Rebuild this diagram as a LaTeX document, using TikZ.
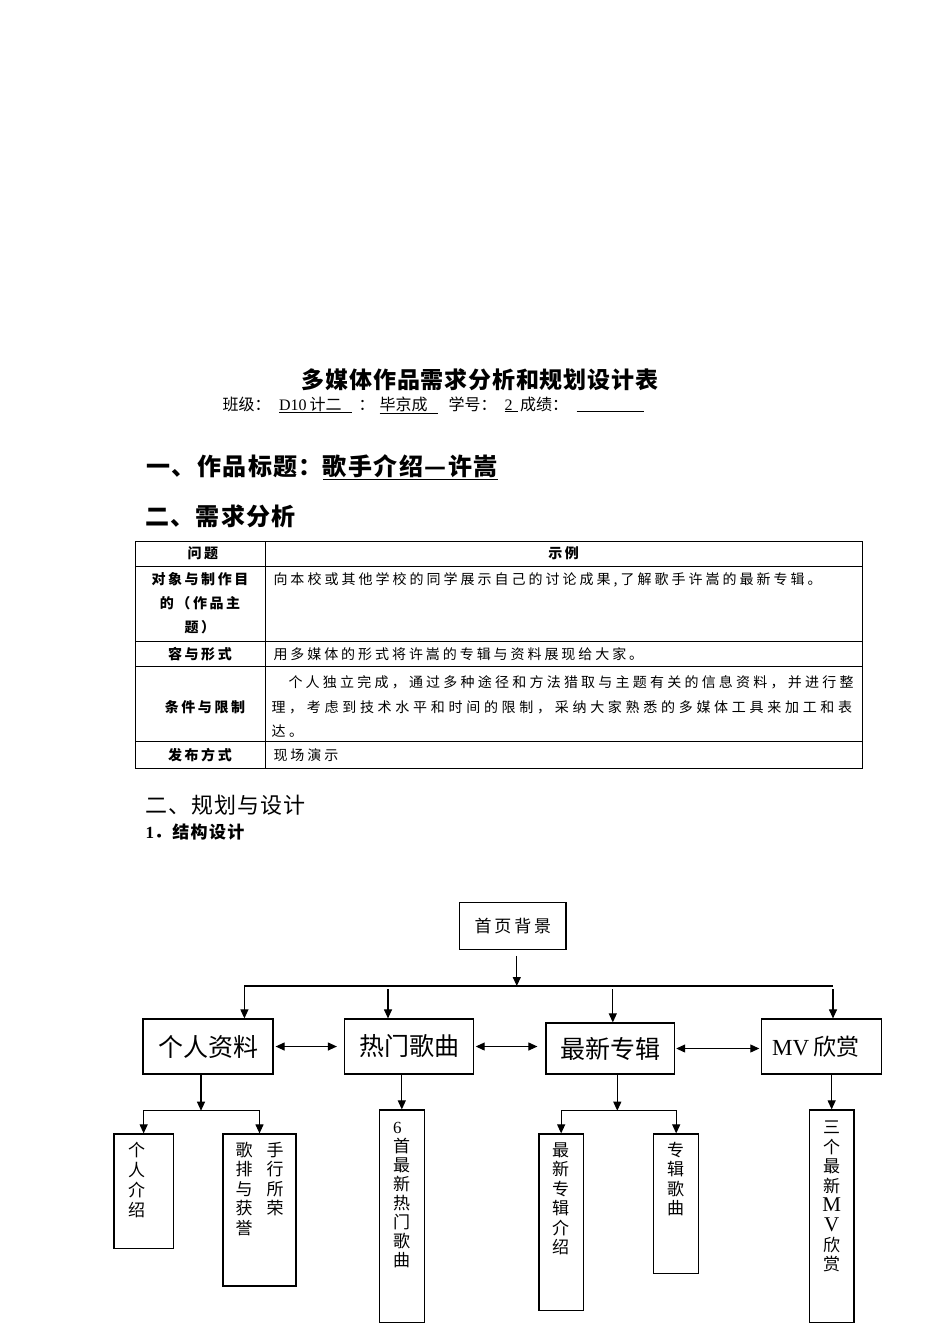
\documentclass[tikz,border=0pt]{standalone}
\usepackage{fontspec}
\setmainfont{Noto Sans CJK SC}
\newfontfamily\lat{Liberation Serif}
\usetikzlibrary{arrows.meta}
\newcommand\fsz[2]{\fontsize{#1}{#2}\selectfont}

\begin{document}
\begin{tikzpicture}[x=1pt,y=-1pt,line width=1pt,
  box/.style={draw,line width=1.2pt,inner sep=0pt},
  arr/.style={line width=1.1pt,-{Triangle[length=9pt,width=8pt]}},
  darr/.style={line width=1.1pt,{Triangle[length=9pt,width=8pt]}-{Triangle[length=9pt,width=8pt]}},
  vtext/.style={inner sep=0pt,align=center,font=\fsz{17}{19.5}},
  sub/.style={inner sep=0pt,anchor=base west,font=\fsz{16}{18}},
  cell/.style={inner sep=0pt,anchor=base west,font={\fsz{14}{17}\addfontfeature{LetterSpace=21.5}}},
  head/.style={inner sep=0pt,anchor=base,font={\fsz{14}{17}\bfseries\addfontfeature{LetterSpace=18}}}]
  \useasboundingbox (0,0) rectangle (950,1344);

  % title lines
  \node[inner sep=0pt,anchor=base,font={\fsz{23}{26}\bfseries\addfontfeature{LetterSpace=3.5}}] (title) at (480,388.7) {多媒体作品需求分析和规划设计表};
  \node[sub] (s1) at (222,410) {班级：};
  \node[sub] (s2) at (278.6,410) {\underline{{\lat D10}\hspace{3pt}计二\hspace{10pt}}};
  \node[sub] (s3) at (358,410) {：};
  \node[sub] (s4) at (379,410) {\underline{毕京成\hspace{10pt}}};
  \node[sub] (s5) at (448,410) {学号：};
  \node[sub] (s6) at (504,410) {\underline{{\lat 2}\hspace{5pt}}};
  \node[sub] (s7) at (519.6,410) {成绩：};
  \node[sub] (s8) at (576,410) {\underline{\hspace{67pt}}};

  \node[inner sep=0pt,anchor=base west,font={\fsz{24}{27}\bfseries\addfontfeature{LetterSpace=6}}] (h1) at (145.8,475) {一、作品标题：\underline{歌手介绍—许嵩}};
  \node[inner sep=0pt,anchor=base west,font={\fsz{24}{27}\bfseries\addfontfeature{LetterSpace=5}}] (h2) at (145,525.6) {二、需求分析};

  % table
  \draw (135,541) rectangle (862,768);
  \foreach \ry in {566,641,666,741}
    \draw (135,\ry) -- (862,\ry);
  \draw (265.5,541) -- (265.5,768);
  \node[head] (q0) at (203,558.8) {问题};
  \node[head] (a0) at (563.6,558.8) {示例};
  \node[head,anchor=center,align=center,font={\fsz{14}{24}\bfseries\addfontfeature{LetterSpace=18}}] (q1) at (200,603) {对象与制作目\\的（作品主\\题）};
  \node[cell] (a1) at (273,584.3) {向本校或其他学校的同学展示自己的讨论成果,了解歌手许嵩的最新专辑。};
  \node[head] (q2) at (200,659.3) {容与形式};
  \node[cell,font={\fsz{14}{17}\addfontfeature{LetterSpace=21}}] (a2) at (273,659.3) {用多媒体的形式将许嵩的专辑与资料展现给大家。};
  \node[head] (q3) at (205,712.3) {条件与限制};
  \node[cell,font={\fsz{14}{17}\addfontfeature{LetterSpace=23}}] (a3a) at (288,687.3) {个人独立完成，通过多种途径和方法猎取与主题有关的信息资料，并进行整};
  \node[cell,font={\fsz{14}{17}\addfontfeature{LetterSpace=26.5}}] (a3b) at (271,712.3) {理，考虑到技术水平和时间的限制，采纳大家熟悉的多媒体工具来加工和表};
  \node[cell,font={\fsz{14}{17}\addfontfeature{LetterSpace=26.5}}] (a3c) at (271,736.3) {达。};
  \node[head] (q4) at (200,760) {发布方式};
  \node[cell,font={\fsz{14}{17}\addfontfeature{LetterSpace=21}}] (a4) at (273,760) {现场演示};

  \node[inner sep=0pt,anchor=base west,font={\fsz{22}{25}\addfontfeature{LetterSpace=4.5}}] (h3) at (145,813.4) {二、规划与设计};
  \node[inner sep=0pt,anchor=base west,font={\fsz{17}{20}\bfseries\addfontfeature{LetterSpace=8}}] (h4) at (145,838) {{\lat\bfseries 1}．结构设计};

  % structure chart
  \node[box,minimum width=106.3pt,minimum height=46.6pt,font={\fsz{17}{20}\addfontfeature{LetterSpace=17}}] (home) at (512.85,926) {首页背景};
  \node[box,minimum width=130pt,minimum height=55pt,font=\fsz{25}{28}] (b1) at (208,1046.5) {个人资料};
  \node[box,minimum width=129.1pt,minimum height=55pt,font=\fsz{25}{28}] (b2) at (409.05,1046.5) {热门歌曲};
  \node[box,minimum width=128.6pt,minimum height=51pt,font=\fsz{25}{28}] (b3) at (610.3,1048.5) {最新专辑};
  \node[box,minimum width=120.4pt,minimum height=55pt,font=\fsz{23}{26}] (b4) at (821.6,1046.5) {{\lat MV}\kern4pt 欣赏\kern12pt};

  \node[box,minimum width=59.3pt,minimum height=114.3pt] (c1) at (143.65,1191.15) {};
  \node[box,minimum width=73pt,minimum height=152pt] (c2) at (259.5,1210) {};
  \node[box,minimum width=45pt,minimum height=212.7pt] (c3) at (401.8,1216.35) {};
  \node[box,minimum width=44.3pt,minimum height=176.7pt] (c4) at (561.15,1222.35) {};
  \node[box,minimum width=45pt,minimum height=139.3pt] (c5) at (676.2,1203.65) {};
  \node[box,minimum width=44.7pt,minimum height=212.7pt] (c6) at (831.65,1216.35) {};

  \node[vtext,font=\fsz{17}{20}] (t1) at (136.7,1180) {个\\人\\介\\绍};
  \node[vtext] (t2a) at (244,1189) {歌\\排\\与\\获\\誉};
  \node[vtext] (t2b) at (275,1179.25) {手\\行\\所\\荣};
  \node[vtext,align=left,font=\fsz{17}{19}] (t3) at (401.7,1195.5) {{\lat 6}\\首\\最\\新\\热\\门\\歌\\曲};
  \node[vtext] (t4) at (560.7,1198.75) {最\\新\\专\\辑\\介\\绍};
  \node[vtext] (t5) at (675.7,1179.25) {专\\辑\\歌\\曲};
  \node[vtext,font=\fsz{17}{19.6}] (t6) at (831.7,1196.5) {三\\个\\最\\新\\{\lat\fsz{21}{19.6}M}\\{\lat\fsz{21}{19.6}V}\\欣\\赏};

  \coordinate (busL) at (244.4,986);
  \coordinate (busR) at (833,986);
  \coordinate (busM) at (516.8,986);
  \coordinate (d2) at (388,989);
  \coordinate (d3) at (612.8,989);
  \coordinate (d4) at (833,989);
  \coordinate (j1) at (201,1110.7);
  \coordinate (j3) at (617.3,1110.7);

  \draw[arr] ([xshift=3.95pt,yshift=-6pt]home.south) -- (busM);
  \draw[line width=1.1pt] (busL) -- (busR);
  \draw[arr] (busL) -- (busL |- b1.north);
  \draw[arr] (d2) -- (d2 |- b2.north);
  \draw[arr] (d3) -- (d3 |- b3.north);
  \draw[arr] (d4) -- (d4 |- b4.north);

  \draw[darr,shorten <=2pt,shorten >=7pt] (b1) -- (b2);
  \draw[darr,shorten <=1.5pt,shorten >=8pt] (b2.east) -- (b2.east -| b3.west);
  \draw[darr,shorten <=1pt,shorten >=1.5pt] (b3.east) -- (b3.east -| b4.west);

  \draw[arr] (j1 |- b1.south) -- (j1);
  \draw[arr] (j1) -| (c1);
  \draw[arr] (j1) -| (c2);
  \draw[arr] (c3.north |- b2.south) -- (c3.north);
  \draw[arr] (j3 |- b3.south) -- (j3);
  \draw[arr] (j3) -| (c4);
  \draw[arr] (j3) -| (c5);
  \draw[arr] (c6.north |- b4.south) -- (c6.north);
\end{tikzpicture}
\end{document}
